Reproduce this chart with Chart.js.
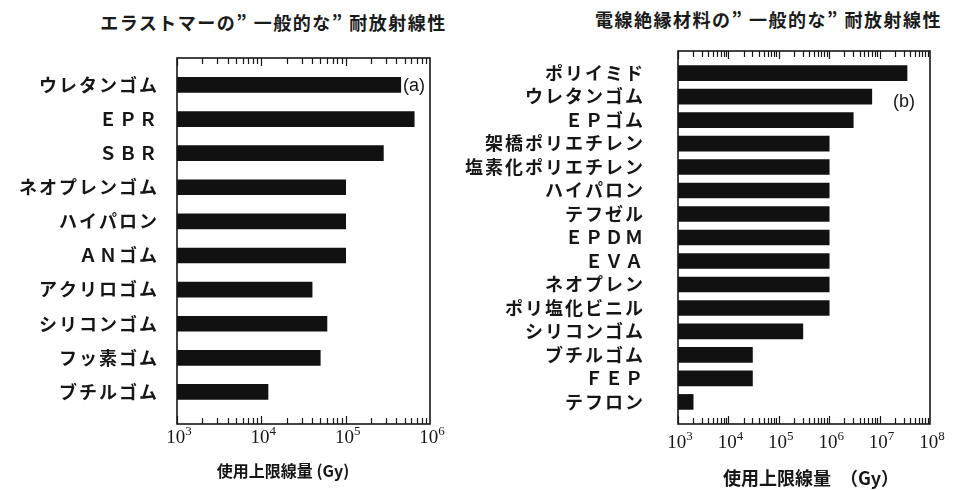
<!DOCTYPE html>
<html lang="ja">
<head>
<meta charset="utf-8">
<script src="https://cdn.jsdelivr.net/npm/chart.js@4.4.1/dist/chart.umd.min.js"></script>
<style>
  html, body { margin: 0; padding: 0; background: #fff; width: 953px; height: 490px; overflow: hidden; }
  .titulo { position: absolute; font-family: "Noto Sans CJK JP", sans-serif; font-weight: bold; font-size: 18px; letter-spacing: 1.5px; color: #1a1a1a; white-space: nowrap; text-align: center; }
  canvas { position: absolute; top: 0; }
</style>
</head>
<body>
<div class="titulo" style="left:90px; top:9px; width:367px;">エラストマーの”&nbsp;一般的な”&nbsp;耐放射線性</div>
<div class="titulo" style="left:585px; top:6px; width:367px;">電線絶縁材料の”&nbsp;一般的な”&nbsp;耐放射線性</div>
<canvas id="graficoA" width="460" height="490" style="left:0"></canvas>
<canvas id="graficoB" width="513" height="490" style="left:440px"></canvas>
<script>
// dados (Gy)
const materiaisA = ['ウレタンゴム', 'ＥＰＲ', 'ＳＢＲ', 'ネオプレンゴム', 'ハイパロン', 'ＡＮゴム', 'アクリロゴム', 'シリコンゴム', 'フッ素ゴム', 'ブチルゴム'];
const limitesA = [4.5e5, 6.5e5, 2.8e5, 1e5, 1e5, 1e5, 4e4, 6e4, 5e4, 1.2e4];
const expoentesA = [3, 4, 5, 6];

const materiaisB = ['ポリイミド', 'ウレタンゴム', 'ＥＰゴム', '架橋ポリエチレン', '塩素化ポリエチレン', 'ハイパロン', 'テフゼル', 'ＥＰＤＭ', 'ＥＶＡ', 'ネオプレン', 'ポリ塩化ビニル', 'シリコンゴム', 'ブチルゴム', 'ＦＥＰ', 'テフロン'];
const limitesB = [3.5e7, 7e6, 3e6, 1e6, 1e6, 1e6, 1e6, 1e6, 1e6, 1e6, 1e6, 3e5, 3e4, 3e4, 2e3];
const expoentesB = [3, 4, 5, 6, 7, 8];

const corTexto = '#161616';
const fonteSerif = '"Liberation Serif", "DejaVu Serif", serif';

// moldura, marcas do eixo log, rotulos 10^n, titulo do eixo e letra do painel
const molduraPlugin = {
  id: 'moldura',
  beforeDraw(chart) {
    chart.ctx.letterSpacing = '2px';
  },
  afterDraw(chart, args, opts) {
    const { ctx, chartArea: a } = chart;
    const x = chart.scales.x;
    ctx.save();
    ctx.letterSpacing = '0px';
    ctx.strokeStyle = corTexto;
    ctx.lineWidth = 1.6;
    ctx.strokeRect(a.left, a.top, a.right - a.left, a.bottom - a.top);
    ctx.lineWidth = 1.2;
    ctx.beginPath();
    const d0 = Math.round(Math.log10(x.min)), d1 = Math.round(Math.log10(x.max));
    for (let d = d0; d < d1; d++) {
      for (let m = 1; m <= 9; m++) {
        const px = Math.round(x.getPixelForValue(m * Math.pow(10, d))) + 0.5;
        const len = m === 1 ? 8 : 6;
        ctx.moveTo(px, a.bottom); ctx.lineTo(px, a.bottom - len);
        ctx.moveTo(px, a.top); ctx.lineTo(px, a.top + len);
      }
    }
    ctx.stroke();

    ctx.fillStyle = corTexto;
    ctx.textBaseline = 'alphabetic';
    ctx.textAlign = 'left';
    const yBase = a.bottom + opts.rotuloY;
    for (let d = d0; d <= d1; d++) {
      const px = x.getPixelForValue(Math.pow(10, d));
      ctx.font = '19px ' + fonteSerif;
      const wBase = ctx.measureText('10').width;
      ctx.font = '13px ' + fonteSerif;
      const wExp = ctx.measureText(String(d)).width;
      const x0 = px - (wBase + wExp) / 2 + 2;
      ctx.font = '19px ' + fonteSerif;
      ctx.fillText('10', x0, yBase);
      ctx.font = '13px ' + fonteSerif;
      ctx.fillText(String(d), x0 + wBase, yBase - 8);
    }

    ctx.textAlign = 'center';
    ctx.textBaseline = 'middle';
    ctx.font = opts.tituloFonte;
    ctx.fillText(opts.tituloEixo, a.left + opts.tituloX, a.bottom + opts.tituloY);

    ctx.font = '18px "Liberation Sans", sans-serif';
    ctx.textAlign = 'left';
    ctx.fillText(opts.letra, a.left + opts.letraX, a.top + opts.letraY);
    ctx.restore();
  }
};

function criarGrafico(id, rotulos, valores, expoentes, cfg) {
  const ctx = document.getElementById(id).getContext('2d');
  return new Chart(ctx, {
    type: 'bar',
    data: {
      datasets: [{
        data: valores.map((v, i) => ({ x: v, y: i })),
        backgroundColor: '#111',
        borderWidth: 0,
        barThickness: 15
      }]
    },
    options: {
      responsive: false,
      animation: false,
      indexAxis: 'y',
      layout: { padding: { top: cfg.topo, right: cfg.direita, left: 0, bottom: 0 } },
      plugins: {
        legend: { display: false },
        tooltip: { enabled: false },
        moldura: {
          letra: cfg.letra, letraX: cfg.letraX, letraY: cfg.letraY,
          rotuloY: cfg.rotuloY,
          tituloEixo: cfg.tituloEixo, tituloFonte: cfg.tituloFonte,
          tituloX: cfg.tituloX, tituloY: cfg.tituloY
        }
      },
      scales: {
        x: {
          type: 'logarithmic',
          min: Math.pow(10, expoentes[0]),
          max: Math.pow(10, expoentes[expoentes.length - 1]),
          afterBuildTicks: s => { s.ticks = expoentes.map(e => ({ value: Math.pow(10, e) })); },
          afterFit: s => { s.height = 66; },
          grid: { display: false, drawTicks: false },
          border: { display: false },
          ticks: { display: false }
        },
        y: {
          type: 'linear',
          reverse: true,
          offset: false,
          min: cfg.yMin,
          max: cfg.yMax,
          afterBuildTicks: s => { s.ticks = rotulos.map((_, i) => ({ value: i })); },
          afterFit: s => { s.width = cfg.larguraY; },
          grid: { display: false, drawTicks: false, offset: false },
          border: { display: false },
          ticks: {
            padding: cfg.padRotulo,
            color: corTexto,
            autoSkip: false,
            font: { family: '"Noto Sans CJK JP", sans-serif', weight: 'bold', size: 18 },
            callback: v => rotulos[v]
          }
        }
      }
    },
    plugins: [molduraPlugin]
  });
}

criarGrafico('graficoA', materiaisA, limitesA, expoentesA, {
  topo: 58, direita: 30, larguraY: 177, padRotulo: 18,
  yMin: -0.79, yMax: 9.94,
  letra: '(a)', letraX: 226, letraY: 28,
  rotuloY: 19,
  tituloEixo: '使用上限線量 (Gy)', tituloFonte: 'bold 16px "Noto Sans CJK JP", sans-serif',
  tituloX: 106, tituloY: 47
});

criarGrafico('graficoB', materiaisB, limitesB, expoentesB, {
  topo: 51, direita: 23, larguraY: 238, padRotulo: 33,
  yMin: -0.94, yMax: 14.94,
  letra: '(b)', letraX: 215, letraY: 51,
  rotuloY: 24,
  tituloEixo: '使用上限線量　（Gy）', tituloFonte: 'bold 18px "Noto Sans CJK JP", sans-serif',
  tituloX: 133, tituloY: 54
});
</script>
</body>
</html>
